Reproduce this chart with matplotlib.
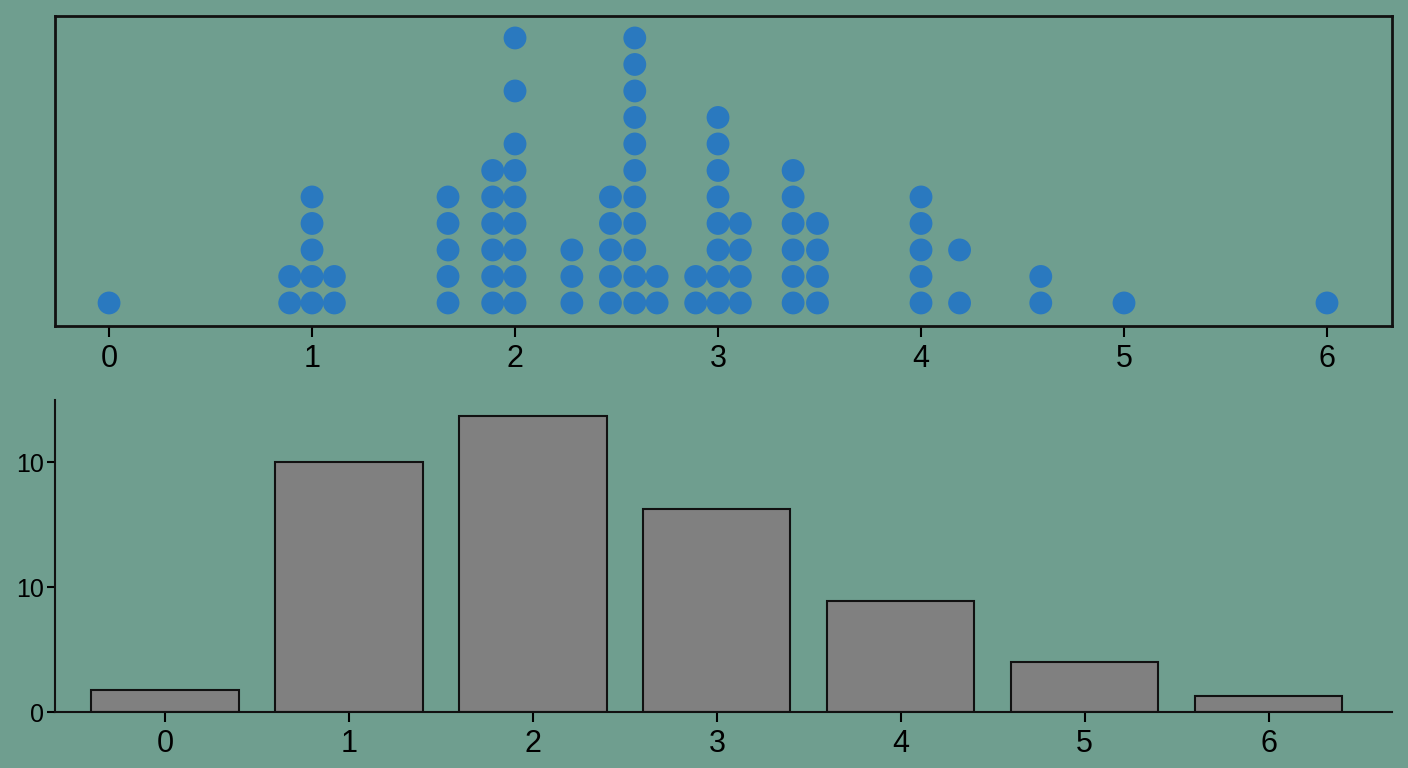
import numpy as np
import matplotlib
matplotlib.use("Agg")
import matplotlib.pyplot as plt

plt.rcParams['font.family'] = ['Liberation Sans Narrow', 'Liberation Sans', 'DejaVu Sans']

# dot plot columns: x position and the stack levels that hold a dot
dot_x = [0.0, 0.89, 1.0, 1.11, 1.67, 1.89, 2.0, 2.28, 2.47, 2.59, 2.70,
         2.89, 3.0, 3.11, 3.37, 3.49, 4.0, 4.19, 4.59, 5.0, 6.0]
dot_rows = [[1], [1, 2], [1, 2, 3, 4, 5], [1, 2], [1, 2, 3, 4, 5],
            [1, 2, 3, 4, 5, 6], [1, 2, 3, 4, 5, 6, 7, 9, 11], [1, 2, 3],
            [1, 2, 3, 4, 5], list(range(1, 12)), [1, 2],
            [1, 2], [1, 2, 3, 4, 5, 6, 7, 8], [1, 2, 3, 4],
            [1, 2, 3, 4, 5, 6], [1, 2, 3, 4], [1, 2, 3, 4, 5], [1, 3],
            [1, 2], [1], [1]]

# histogram bars
bar_cats = [0, 1, 2, 3, 4, 5, 6]
bar_vals = [1.75, 20.0, 23.75, 16.25, 8.9, 4.0, 1.3]
ytick_vals = [0, 10, 20]
ytick_labels = ["0", "10", "10"]

bg = "#6f9e8f"
fig = plt.figure(figsize=(14.08, 7.68), dpi=100, facecolor=bg)

# top: dot plot
ax1 = fig.add_axes([0.0391, 0.5755, 0.9495, 0.4037], facecolor=bg)
xs, ys = [], []
for x, rows in zip(dot_x, dot_rows):
    for r in rows:
        xs.append(x)
        ys.append(r)
ax1.scatter(xs, ys, s=270, color="#2a79bf", edgecolors="none", zorder=3)
ax1.set_xlim(-0.266, 6.32)
ax1.set_ylim(0.13, 11.83)
ax1.set_yticks([])
ax1.set_xticks(range(7))
ax1.tick_params(axis="x", length=8, width=1.5, labelsize=22, pad=5)
for sp in ax1.spines.values():
    sp.set_linewidth(2)
    sp.set_color("#111111")

# bottom: bar chart
ax2 = fig.add_axes([0.0391, 0.0729, 0.9495, 0.4063], facecolor=bg)
ax2.bar(bar_cats, bar_vals, width=0.8, color="#808080",
        edgecolor="#111111", linewidth=1.5)
ax2.set_xlim(-0.598, 6.67)
ax2.set_ylim(0, 25)
ax2.set_xticks(bar_cats)
ax2.set_yticks(ytick_vals)
ax2.set_yticklabels(ytick_labels)
ax2.tick_params(axis="x", length=7, width=1.5, labelsize=22, pad=5)
ax2.tick_params(axis="y", length=6, width=1.5, labelsize=18, pad=2)
ax2.spines["top"].set_visible(False)
ax2.spines["right"].set_visible(False)
for s in ["left", "bottom"]:
    ax2.spines[s].set_linewidth(1.5)
    ax2.spines[s].set_color("#111111")

fig.savefig("out.png", dpi=100, facecolor=bg)
